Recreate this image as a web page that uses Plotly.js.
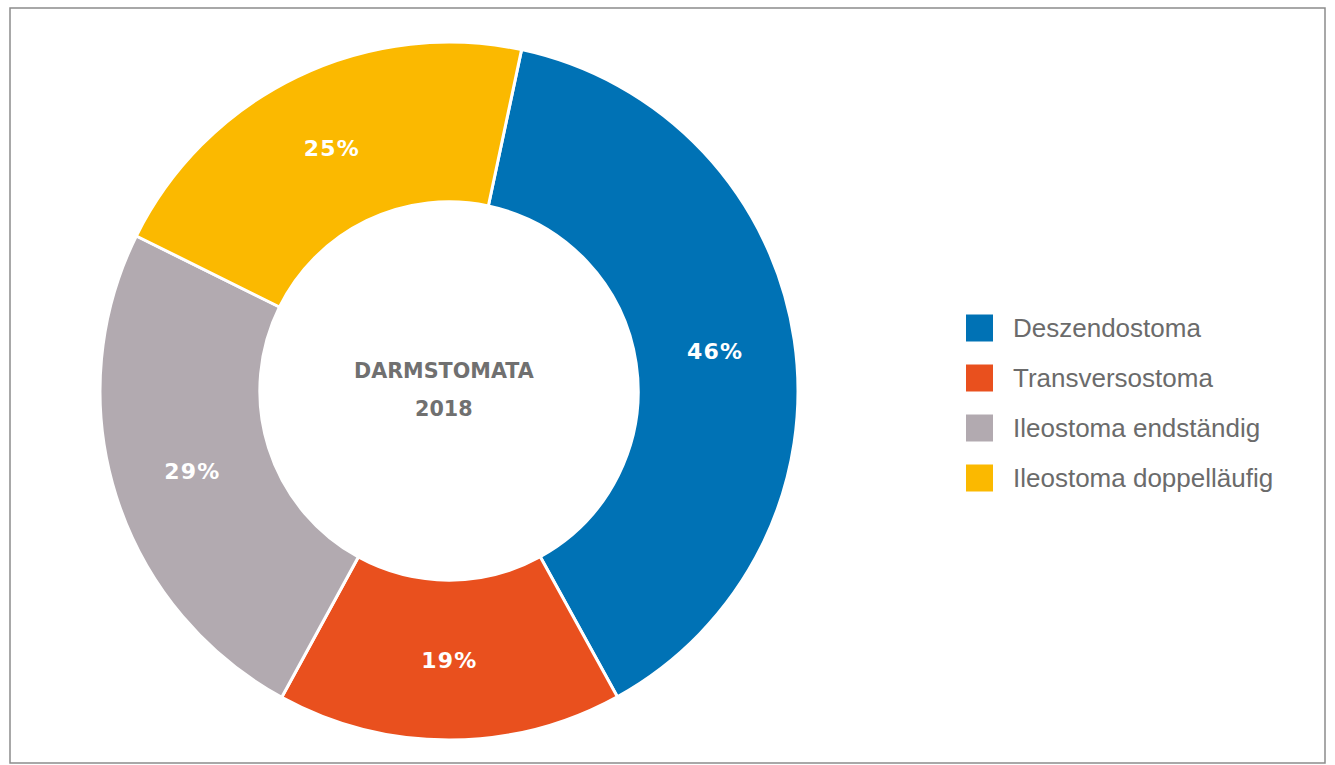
<!DOCTYPE html>
<html>
<head>
<meta charset="utf-8">
<script src="https://cdn.plot.ly/plotly-3.0.1.min.js"></script>
<style>
  html, body { margin: 0; padding: 0; background: #ffffff; }
  #chart { width: 1335px; height: 765px; }
  .slicetext text { letter-spacing: 1.2px; }
</style>
</head>
<body>
<div id="chart"></div>
<script>
// Data
const categories = ["Deszendostoma", "Transversostoma", "Ileostoma endständig", "Ileostoma doppelläufig"];
const values = [46, 19, 29, 25];
const colors = ["#0072b5", "#e9501e", "#b2aab0", "#fbb900"];
const centerTitle = ["DARMSTOMATA", "2018"];

const W = 1335, H = 765;
const px = x => x / W;
const py = y => 1 - y / H;

const pie = {
  type: "pie",
  labels: categories,
  values: values,
  sort: false,
  direction: "clockwise",
  rotation: 12,
  hole: 0.542,
  marker: { colors: colors, line: { color: "#ffffff", width: 3 } },
  texttemplate: "%{value}%",
  textposition: "inside",
  insidetextorientation: "horizontal",
  insidetextfont: { family: "DejaVu Sans, sans-serif", size: 22, color: "#ffffff", weight: "bold" },
  hoverinfo: "label+value",
  showlegend: false,
  domain: { x: [px(100), px(798)], y: [py(740), py(42)] }
};

// Legend built from the category arrays
const shapes = [];
const annotations = [];
const legX = 966, legSq = 27, legY0 = 328, legStep = 50;
categories.forEach((c, i) => {
  const cy = legY0 + i * legStep;
  shapes.push({
    type: "rect", xref: "paper", yref: "paper",
    x0: px(legX), x1: px(legX + legSq), y0: py(cy + legSq / 2), y1: py(cy - legSq / 2),
    fillcolor: colors[i], line: { width: 0 }
  });
  annotations.push({
    xref: "paper", yref: "paper", x: px(1011), y: py(cy), xanchor: "left", yanchor: "middle",
    text: c, showarrow: false,
    font: { family: "Liberation Sans, Arial, sans-serif", size: 26, color: "#6b6b6b" }
  });
});

// Frame
shapes.push({
  type: "rect", xref: "paper", yref: "paper",
  x0: px(10), x1: px(1325), y0: py(763), y1: py(8),
  line: { color: "#8c8c8c", width: 1.5 }, fillcolor: "rgba(0,0,0,0)"
});

// Center title
annotations.push({
  xref: "paper", yref: "paper", x: px(444), y: py(371), xanchor: "center", yanchor: "middle",
  text: centerTitle[0], showarrow: false,
  font: { family: "DejaVu Sans, sans-serif", size: 20.7, color: "#707070", weight: "bold" }
});
annotations.push({
  xref: "paper", yref: "paper", x: px(444), y: py(409), xanchor: "center", yanchor: "middle",
  text: centerTitle[1], showarrow: false,
  font: { family: "DejaVu Sans, sans-serif", size: 20.7, color: "#707070", weight: "bold" }
});

const layout = {
  width: W, height: H,
  margin: { l: 0, r: 0, t: 0, b: 0, pad: 0 },
  paper_bgcolor: "#ffffff",
  plot_bgcolor: "#ffffff",
  showlegend: false,
  shapes: shapes,
  annotations: annotations
};

Plotly.newPlot("chart", [pie], layout, { displayModeBar: false, staticPlot: true });
</script>
</body>
</html>
